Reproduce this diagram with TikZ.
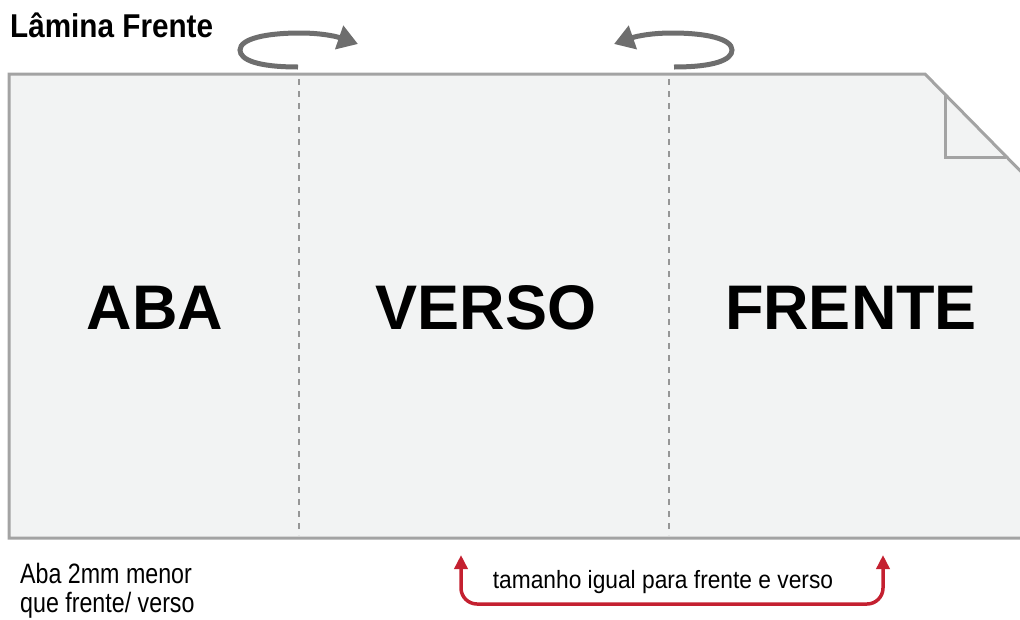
\documentclass[tikz,border=0pt]{standalone}
\usepackage{fontspec}
\setmainfont{Liberation Sans}
\usetikzlibrary{arrows.meta}
\definecolor{sheetfill}{RGB}{242,243,243}
\definecolor{sheetline}{RGB}{163,163,163}
\definecolor{foldgray}{RGB}{150,150,150}
\definecolor{rotgray}{RGB}{110,110,110}
\definecolor{bracketred}{RGB}{196,32,48}
\tikzset{
  sheetedge/.style={draw=sheetline, line width=3pt, line join=miter},
  foldline/.style={draw=foldgray, line width=2.5pt, dash pattern=on 6pt off 6pt},
  bigword/.style={font=\fontsize{63}{63}\selectfont\bfseries, text=black, inner sep=0pt},
  rotarrow/.style={draw=rotgray, line width=5pt, -{Triangle[length=20pt,width=24pt]}},
  note/.style={font=\fontsize{28}{29}\selectfont, text=black, inner sep=0pt, anchor=base west, xscale=0.83, align=left},
  redbracket/.style={draw=bracketred, line width=3.5pt, rounded corners=16pt, {Triangle[length=14pt,width=13pt]}-{Triangle[length=14pt,width=13pt]}}
}
\begin{document}
\begin{tikzpicture}[x=1pt,y=-1pt]
\useasboundingbox (0,0) rectangle (1020,619);
\begin{scope}
\clip (0,0) rectangle (1020,619);
\path[fill=sheetfill, sheetedge] (9,74) -- (925,74) -- (1045,196) -- (1045,538) -- (9,538) -- cycle;
\draw[sheetedge] (945,95) -- (945,157) -- (1006,157);
\end{scope}
\coordinate (f1t) at (299,79);
\coordinate (f1b) at (299,535);
\coordinate (f2t) at (669,79);
\coordinate (f2b) at (669,535);
\draw[foldline] (f1t) -- (f1b);
\draw[foldline] (f2t) -- (f2b);
\node[bigword] (aba) at (155,308) {ABA};
\node[bigword] (verso) at (486,308) {VERSO};
\node[bigword] (frente) at (851,308) {FRENTE};
\node[font=\fontsize{33}{33}\selectfont\bfseries, inner sep=0pt, anchor=base west, xscale=0.9] (title) at (10,37) {Lâmina Frente};
% rotation arrows
\coordinate (r1s) at (298,67);
\coordinate (r1e) at (358,44);
\draw[rotarrow] (r1s) .. controls (258,67) and (240,60) .. (240,50) .. controls (240,39) and (265,33) .. (300,33) .. controls (320,33) and (335,36) .. (r1e);
\coordinate (r2s) at (674,67);
\coordinate (r2e) at (614,44);
\draw[rotarrow] (r2s) .. controls (714,67) and (732,60) .. (732,50) .. controls (732,39) and (707,33) .. (672,33) .. controls (652,33) and (637,36) .. (r2e);
% notes
\node[note] (aba note) at (20,612) {Aba 2mm menor\\que frente/ verso};
\node[font=\fontsize{25}{25}\selectfont, inner sep=0pt, anchor=base, xscale=0.91] (size note) at (663,588) {tamanho igual para frente e verso};
\coordinate (b1) at (461,555);
\coordinate (b2) at (883,555);
\draw[redbracket] (b1) -- (461,604) -- (883,604) -- (b2);
\end{tikzpicture}
\end{document}
